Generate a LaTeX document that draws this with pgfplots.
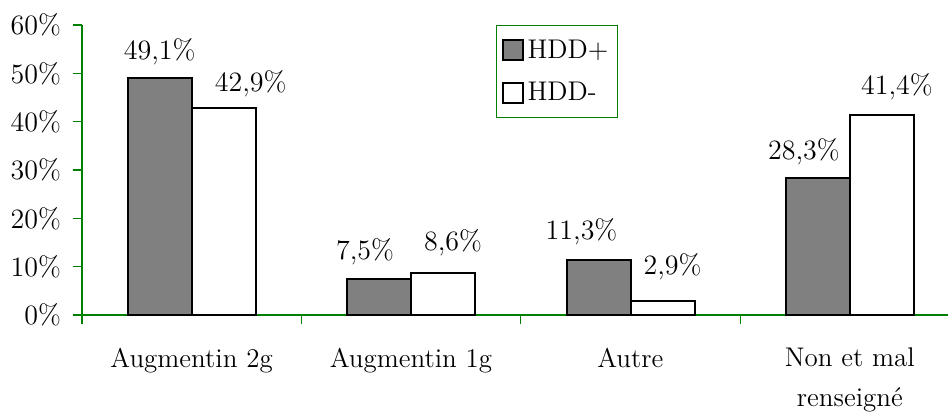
\documentclass[border=0pt]{standalone}
\usepackage{pgfplots}
\pgfplotsset{compat=1.18}
\definecolor{axgreen}{RGB}{0,128,0}
\definecolor{bargray}{RGB}{128,128,128}
% label: #1 horizontal offset (x2, pt), #2 raise of baseline above bar top (pt), #3 text
\newcommand\lab[3]{\makebox[0pt]{\hspace*{#1pt}\raisebox{#2pt}[0pt][0pt]{\fontsize{14}{16}\selectfont#3}}}

\begin{document}
\begin{tikzpicture}[font=\fontsize{13.5}{18.5}\selectfont]
\begin{axis}[
  at={(0,0)}, anchor=south west,
  scale only axis, width=433pt, height=145pt,
  ymin=0, ymax=60, xmin=-0.5, xmax=3.447,
  clip=false,
  axis x line=bottom, axis y line=left,
  axis line style={axgreen, line width=0.6pt, -},
  tick style={axgreen, line width=0.6pt},
  tick align=outside, major tick length=4.5pt,
  ybar=0pt, bar width=32pt,
  ytick={0,10,...,60},
  yticklabel={\pgfmathprintnumber{\tick}\%},
  yticklabel style={xshift=-2.5pt, font=\fontsize{14}{16}\selectfont},
  xtick={-0.5,0.5,1.5,2.5},
  xticklabels={Augmentin 2g, Augmentin 1g, Autre, {Non et mal\\renseign\'e}},
  xticklabel style={xshift=54.8pt, yshift=-8.5pt, align=center, font=\fontsize{13.5}{20}\selectfont},
  /pgf/number format/assume math mode=true,
  point meta=explicit symbolic,
  nodes near coords,
  every node near coord/.append style={text=black, inner sep=0pt},
  legend style={at={(axis description cs:0.478,1)}, anchor=north west,
    draw=axgreen, line width=0.6pt, inner xsep=2.5pt, inner ysep=5pt, row sep=6.5pt,
    font=\fontsize{13.5}{15}\selectfont},
  legend cell align=left,
  legend image code/.code={\draw[#1, line width=1pt] (0pt,-5pt) rectangle (10pt,5pt);},
]
\addplot[fill=bargray, draw=black, line width=1pt] coordinates {
  (0,49.1) [\lab{0}{8}{49,1\%}]
  (1,7.5)  [\lab{-14}{8.5}{7,5\%}]
  (2,11.3) [\lab{-17}{9.5}{11,3\%}]
  (3,28.3) [\lab{-14}{8.5}{28,3\%}]
};
\addlegendentry{HDD+}
\addplot[fill=white, draw=black, line width=1pt] coordinates {
  (0,42.9) [\lab{27}{7}{42,9\%}]
  (1,8.6)  [\lab{10}{10.5}{8,6\%}]
  (2,2.9)  [\lab{10}{12}{2,9\%}]
  (3,41.4) [\lab{15}{9}{41,4\%}]
};
\addlegendentry{HDD-}
\end{axis}
\pgfresetboundingbox
\path (-41pt,-48.5pt) rectangle (433pt,157.5pt);
\end{tikzpicture}
\end{document}
